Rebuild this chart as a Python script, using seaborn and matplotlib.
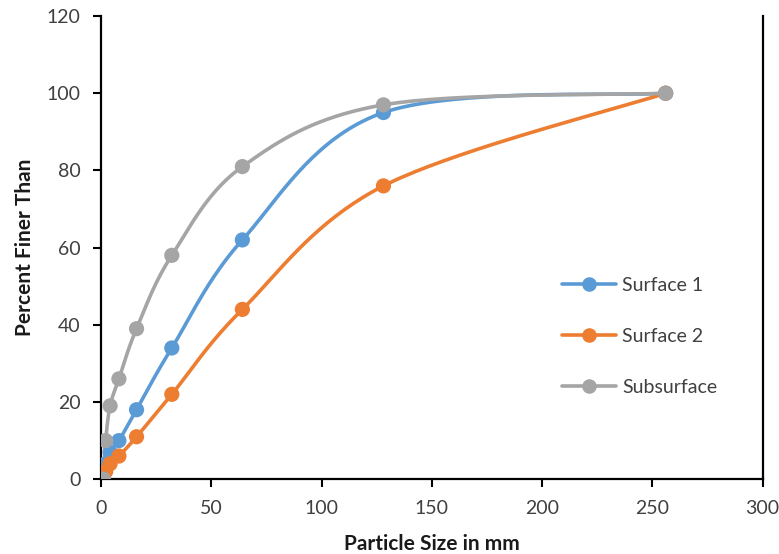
import numpy as np
import pandas as pd
import matplotlib
matplotlib.use("Agg")
import matplotlib.pyplot as plt
import seaborn as sns
from matplotlib.lines import Line2D

# Sieve sizes (mm) and percent finer for each sample
sizes = [1, 2, 4, 8, 16, 32, 64, 128, 256]
surface_1 = [0, 4, 7, 10, 18, 34, 62, 95, 100]
surface_2 = [0, 2, 4, 6, 11, 22, 44, 76, 100]
subsurface = [0, 10, 19, 26, 39, 58, 81, 97, 100]

series_names = ["Surface 1", "Surface 2", "Subsurface"]
colors = {"Surface 1": "#5B9BD5", "Surface 2": "#ED7D31", "Subsurface": "#A5A5A5"}


def smooth_curve(x, y, steps=40):
    # Excel style smoothed line: cubic bezier with catmull-rom control points
    pts = np.column_stack([x, y]).astype(float)
    pad = np.vstack([pts[0], pts, pts[-1]])
    out = []
    for i in range(len(pts) - 1):
        p0, p1, p2, p3 = pad[i], pad[i + 1], pad[i + 2], pad[i + 3]
        c1 = p1 + (p2 - p0) / 6
        c2 = p2 - (p3 - p1) / 6
        t = np.linspace(0, 1, steps)[:, None]
        seg = ((1 - t) ** 3) * p1 + 3 * ((1 - t) ** 2) * t * c1 + 3 * (1 - t) * t ** 2 * c2 + t ** 3 * p2
        out.append(seg)
    seg = np.vstack(out)
    return seg[:, 0], seg[:, 1]


def main():
    sns.set_theme(style="ticks")
    plt.rcParams['font.family'] = ['Lato', 'DejaVu Sans']

    df = pd.DataFrame({
        "Particle Size": sizes * 3,
        "Percent Finer": surface_1 + surface_2 + subsurface,
        "Sample": [n for n in series_names for _ in sizes],
    })

    fig = plt.figure(figsize=(7.79, 5.54), dpi=100)
    ax = fig.add_axes([0.130, 0.135, 0.849, 0.836])

    for name in series_names:
        sub = df[df["Sample"] == name]
        xs, ys = smooth_curve(sub["Particle Size"].values, sub["Percent Finer"].values)
        ax.plot(xs, ys, color=colors[name], lw=2.6, zorder=2)

    sns.scatterplot(data=df, x="Particle Size", y="Percent Finer", hue="Sample",
                    palette=colors, s=120, edgecolor="none", legend=False,
                    zorder=3, ax=ax)

    ax.set_xlim(0, 300)
    ax.set_ylim(0, 120)
    ax.set_xticks(range(0, 301, 50))
    ax.set_yticks(range(0, 121, 20))
    ax.set_xlabel("Particle Size in mm", fontsize=15, fontweight="bold", labelpad=12,
                  color="#1a1a1a")
    ax.set_ylabel("Percent Finer Than", fontsize=15, fontweight="bold", labelpad=8,
                  color="#1a1a1a")
    ax.tick_params(axis="both", labelsize=14, colors="black", length=6, width=1.5,
                   direction="out", labelcolor="#404040", pad=9)

    for side in ["left", "bottom", "right"]:
        ax.spines[side].set_linewidth(1.6)
        ax.spines[side].set_color("black")
    ax.spines["top"].set_visible(False)

    handles = [Line2D([0], [0], color=colors[n], lw=2.6, marker="o", markersize=10.5,
                      markeredgecolor="none") for n in series_names]
    ax.legend(handles, series_names, loc="upper left", bbox_to_anchor=(0.67, 0.475),
              frameon=False, fontsize=14, labelspacing=1.75, handlelength=2.8,
              handletextpad=0.3, labelcolor="#404040")

    fig.savefig("out.png", dpi=100)


if __name__ == "__main__":
    main()
